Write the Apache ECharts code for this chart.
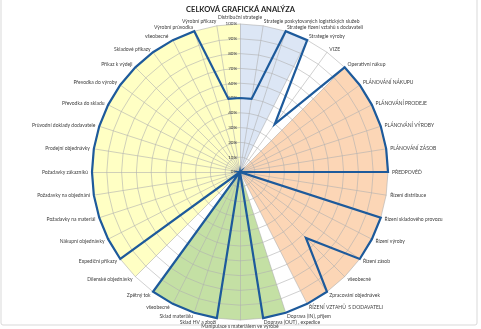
<!DOCTYPE html>
<html>
<head>
<meta charset="utf-8">
<script src="https://cdn.jsdelivr.net/npm/echarts@6/dist/echarts.min.js"></script>
<style>
  html, body { margin: 0; padding: 0; background: #ffffff; }
  #chart { width: 481px; height: 329px; }
</style>
</head>
<body>
<div id="chart"></div>
<script>
// Categories, clockwise from the top
const categories = [
  'Distribuční strategie',
  'Strategie poskytovaných logistických služeb',
  'Strategie řízení vztahů s dodavateli',
  'Strategie výroby',
  'VIZE',
  'Operativní nákup',
  'PLÁNOVÁNÍ NÁKUPU',
  'PLÁNOVÁNÍ PRODEJE',
  'PLÁNOVÁNÍ VÝROBY',
  'PLÁNOVÁNÍ ZÁSOB',
  'PŘEDPOVĚĎ',
  'Řízení distribuce',
  'Řízení skladového provozu',
  'Řízení výroby',
  'Řízení zásob',
  'všeobecné',
  'Zpracování objednávek',
  'ŘÍZENÍ VZTAHŮ  S DODAVATELI',
  'Doprava (IN), příjem',
  'Doprava (OUT) , expedice',
  'Manipulace s materiálem ve výrobě',
  'Sklad HV a zboží',
  'Sklad materiálu',
  'všeobecné ',
  'Zpětný tok',
  'Dílenské objednávky',
  'Expediční příkazy',
  'Nákupní objednávky',
  'Požadavky na materiál',
  'Požadavky na objednání',
  'Požadavky zákazníků',
  'Prodejní objednávky',
  'Průvodní doklady dodavatele',
  'Převodka do skladu',
  'Převodka do výroby',
  'Příkaz k výdeji',
  'Skladové příkazy',
  'všeobecné  ',
  'Výrobní průvodka',
  'Výrobní příkazy'
];

// Analysed level per category (%)
const levels = [
  50, 50, 100, 100, 40,
  100, 100, 100, 100, 100,
  100, 0, 100, 100, 100,
  63, 100, 100, 100, 100,
  0, 100, 100, 100, 100,
  0, 100, 100, 100, 100,
  100, 100, 100, 100, 100,
  100, 100, 100, 100, 50
];

// Background bands: category positions (indices into categories) of each area
const strategyBand  = [0, 1, 2, 3];
const planningBand  = [5, 6, 7, 8, 9, 10, 11, 12, 13, 14, 15, 16, 17];
const logisticsBand = [18, 19, 20, 21, 22, 23, 24];
const documentsBand = [25, 26, 27, 28, 29, 30, 31, 32, 33, 34, 35, 36, 37, 38, 39, 0];

const percentTicks = ['0%', '10%', '20%', '30%', '40%', '50%', '60%', '70%', '80%', '90%', '100%'];

// ECharts places radar indicators counter-clockwise; reorder to run clockwise
const order = [0];
for (let i = categories.length - 1; i >= 1; i--) order.push(i);

const reorder = arr => order.map(i => arr[i]);
const bandValues = band => reorder(categories.map((_, i) => band.indexOf(i) >= 0 ? 100 : 0));

const FONT = 'Lato';
const gridColor = '#b0b0b0';

const baseRadar = {
  center: [240, 172],
  radius: 148,
  startAngle: 90,
  shape: 'polygon',
  splitNumber: 10,
  nameGap: 4
};

const indicators = reorder(categories).map((name, k) => {
  const ind = { name: name, min: 0, max: 100 };
  if (k === 0) ind.axisLabel = { show: true };
  return ind;
});

const chart = echarts.init(document.getElementById('chart'), null, { renderer: 'canvas' });

const bandSeries = (band, color) => ({
  type: 'radar',
  radarIndex: 0,
  z: 1,
  silent: true,
  symbol: 'none',
  lineStyle: { width: 0, opacity: 0 },
  areaStyle: { color: color, opacity: 1 },
  data: [{ value: bandValues(band) }]
});

chart.setOption({
  animation: false,
  backgroundColor: '#ffffff',
  title: {
    text: 'CELKOVÁ GRAFICKÁ ANALÝZA',
    left: 'center',
    top: 1,
    textStyle: { fontFamily: '"Liberation Sans Narrow", Lato', fontSize: 7.5, fontWeight: 'bold', color: '#262626' }
  },
  graphic: [{
    type: 'rect',
    shape: { x: 1, y: -3, width: 476, height: 328, r: 2 },
    style: { fill: 'none', stroke: '#d9d9d9', lineWidth: 1 },
    silent: true
  }],
  radar: [
    Object.assign({}, baseRadar, {
      indicator: indicators.map(d => ({ name: d.name, min: 0, max: 100 })),
      axisName: { show: false },
      splitLine: { show: false },
      splitArea: { show: false },
      axisLine: { show: false },
      axisTick: { show: false },
      axisLabel: { show: false },
      z: 0
    }),
    Object.assign({}, baseRadar, {
      indicator: indicators,
      axisName: { color: '#404040', fontSize: 5, fontFamily: FONT },
      splitLine: { lineStyle: { color: gridColor, width: 0.6 } },
      splitArea: { show: false },
      axisLine: { lineStyle: { color: gridColor, width: 0.6 } },
      axisTick: { show: false },
      axisLabel: {
        show: false,
        margin: 3,
        fontSize: 4.5,
        fontFamily: FONT,
        color: '#404040',
        showMinLabel: true,
        formatter: v => percentTicks[Math.round(v / 10)]
      },
      z: 2
    })
  ],
  series: [
    bandSeries(documentsBand, '#ffffc4'),
    bandSeries(strategyBand, '#dce6f5'),
    bandSeries(planningBand, '#fcd6b6'),
    bandSeries(logisticsBand, '#c4e0a4'),
    {
      type: 'radar',
      radarIndex: 1,
      z: 3,
      symbol: 'none',
      lineStyle: { color: '#1d5a9b', width: 2.2, join: 'miter' },
      data: [{ value: reorder(levels) }]
    }
  ]
});
</script>
</body>
</html>
